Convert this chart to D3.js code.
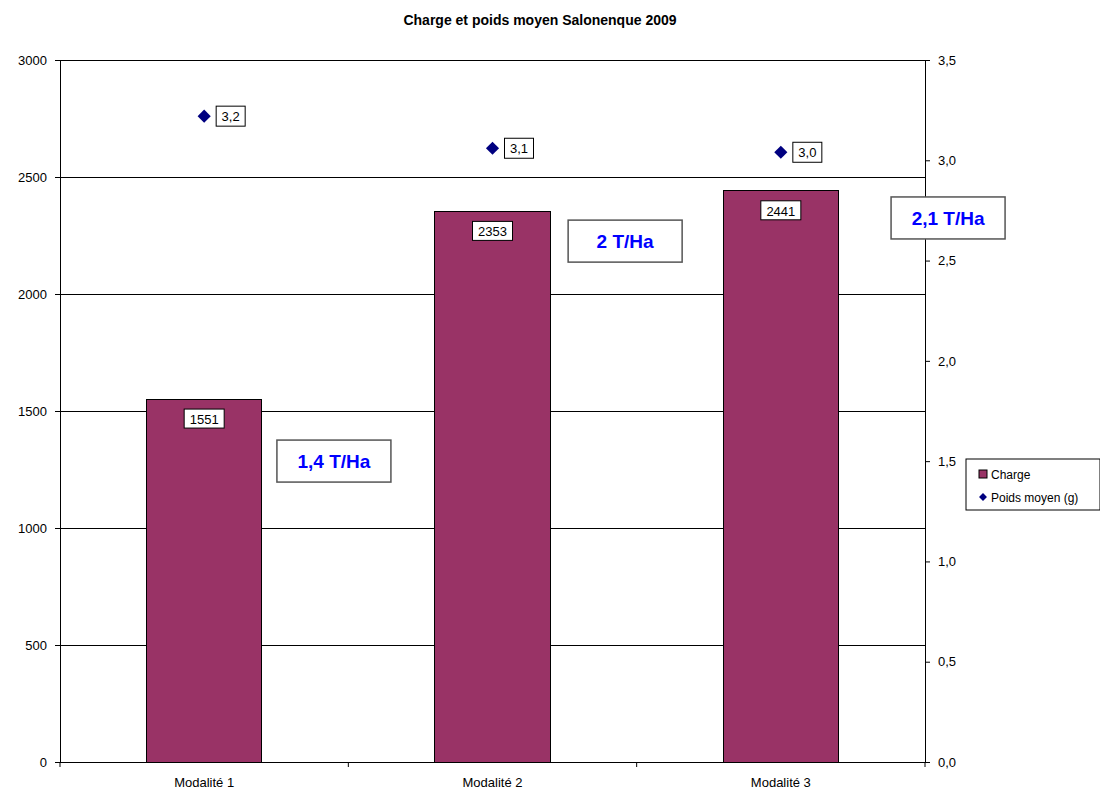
<!DOCTYPE html>
<html>
<head>
    <script src="https://cdn.jsdelivr.net/npm/d3@7"></script>
    <title>Charge et poids moyen</title>
    <style>
        body { margin: 0; background: #fff; }
        text { font-family: "Liberation Sans", Arial, sans-serif; }
    </style>
</head>
<body>
<script>
    // data
    var categories = ["Modalité 1", "Modalité 2", "Modalité 3"];
    var charge = [1551, 2353, 2441];
    var poids = [3.22, 3.06, 3.04];
    var leftTicks = [0, 500, 1000, 1500, 2000, 2500, 3000];
    var rightTicks = [0, 0.5, 1, 1.5, 2, 2.5, 3, 3.5];
    // annotation boxes: category, position inside band, value on left scale
    var noteText = ["1,4 T/Ha", "2 T/Ha", "2,1 T/Ha"];
    var noteBand = [0.95, 0.96, 1.08];
    var noteValue = [1286, 2226, 2325];

    var width = 1100, height = 793;
    var plotLeft = 60, plotRight = 925, plotTop = 60, plotBottom = 762;

    var svg = d3.select("body").append("svg")
        .attr("width", width).attr("height", height);

    var x = d3.scaleBand().domain(categories).range([plotLeft, plotRight]).padding(0);
    var yL = d3.scaleLinear().domain([0, 3000]).range([plotBottom, plotTop]);
    var yR = d3.scaleLinear().domain([0, 3.5]).range([plotBottom, plotTop]);

    // title
    svg.append("text")
        .attr("x", 540).attr("y", 25)
        .attr("text-anchor", "middle")
        .attr("font-size", 14).attr("font-weight", "bold")
        .text("Charge et poids moyen Salonenque 2009");

    // gridlines
    svg.append("g").selectAll("line")
        .data(leftTicks.filter(function(d){ return d > 0; }))
        .enter().append("line")
        .attr("x1", plotLeft).attr("x2", plotRight)
        .attr("y1", function(d){ return yL(d); })
        .attr("y2", function(d){ return yL(d); })
        .attr("stroke", "#000").attr("stroke-width", 1)
        .attr("shape-rendering", "crispEdges");

    // bars
    var bw = x.bandwidth() * 0.4;
    svg.append("g").selectAll("rect")
        .data(charge).enter().append("rect")
        .attr("x", function(d, i){ return x(categories[i]) + (x.bandwidth() - bw) / 2; })
        .attr("y", function(d){ return yL(d); })
        .attr("width", bw)
        .attr("height", function(d){ return yL(0) - yL(d); })
        .attr("fill", "#993366")
        .attr("stroke", "#000").attr("stroke-width", 1)
        .attr("shape-rendering", "crispEdges");

    // axes
    var axisStyle = function(g){
        g.selectAll("path").attr("stroke", "#000");
        g.selectAll("line").attr("stroke", "#000");
        g.selectAll("text").attr("font-size", 13).attr("fill", "#000")
            .attr("font-family", "Liberation Sans, Arial, sans-serif");
    };

    svg.append("g")
        .attr("transform", "translate(" + plotLeft + ",0)")
        .call(d3.axisLeft(yL).tickValues(leftTicks).tickSize(5).tickSizeOuter(0).tickPadding(8)
            .tickFormat(d3.format("d")))
        .call(axisStyle);

    svg.append("g")
        .attr("transform", "translate(" + plotRight + ",0)")
        .call(d3.axisRight(yR).tickValues(rightTicks).tickSize(5).tickSizeOuter(0).tickPadding(8)
            .tickFormat(function(d){ return d3.format(".1f")(d).replace(".", ","); }))
        .call(axisStyle);

    var xAxis = svg.append("g")
        .attr("transform", "translate(0," + plotBottom + ")")
        .call(d3.axisBottom(x).tickSize(0).tickPadding(16))
        .call(axisStyle);
    xAxis.select(".domain").remove();
    svg.append("line")
        .attr("x1", plotLeft).attr("x2", plotRight).attr("y1", plotBottom).attr("y2", plotBottom)
        .attr("stroke", "#000").attr("shape-rendering", "crispEdges");
    // category separator ticks
    svg.append("g").selectAll("line")
        .data(categories).enter().append("line")
        .attr("x1", function(d){ return x(d); })
        .attr("x2", function(d){ return x(d); })
        .attr("y1", plotBottom).attr("y2", plotBottom + 5)
        .attr("stroke", "#000");
    svg.append("line")
        .attr("x1", plotRight).attr("x2", plotRight).attr("y1", plotBottom).attr("y2", plotBottom + 5)
        .attr("stroke", "#000");

    // bar labels
    var barLab = svg.append("g").selectAll("g")
        .data(charge).enter().append("g")
        .attr("transform", function(d, i){
            return "translate(" + (x(categories[i]) + x.bandwidth() / 2) + "," + (yL(d) + 22) + ")";
        });
    barLab.append("rect")
        .attr("x", -20).attr("y", -12).attr("width", 40).attr("height", 19)
        .attr("fill", "#fff").attr("stroke", "#000");
    barLab.append("text")
        .attr("text-anchor", "middle").attr("y", 3)
        .attr("font-size", 13).text(function(d){ return d; });

    // diamonds
    var sym = d3.symbol().type(d3.symbolDiamond2).size(110);
    svg.append("g").selectAll("path")
        .data(poids).enter().append("path")
        .attr("d", sym)
        .attr("transform", function(d, i){
            return "translate(" + (x(categories[i]) + x.bandwidth() / 2) + "," + yR(d) + ")";
        })
        .attr("fill", "#000080");

    var ptLab = svg.append("g").selectAll("g")
        .data(poids).enter().append("g")
        .attr("transform", function(d, i){
            return "translate(" + (x(categories[i]) + x.bandwidth() / 2 + 12) + "," + yR(d) + ")";
        });
    ptLab.append("rect")
        .attr("x", 0).attr("y", -10).attr("width", 29).attr("height", 20)
        .attr("fill", "#fff").attr("stroke", "#000");
    ptLab.append("text")
        .attr("x", 14.5).attr("y", 5).attr("text-anchor", "middle")
        .attr("font-size", 13)
        .text(function(d){ return d3.format(".1f")(d).replace(".", ","); });

    // annotation boxes
    var notes = svg.append("g").selectAll("g")
        .data(noteText).enter().append("g")
        .attr("transform", function(d, i){
            return "translate(" + (x(categories[i]) + x.bandwidth() * noteBand[i]) + "," + yL(noteValue[i]) + ")";
        });
    notes.append("rect")
        .attr("x", -57).attr("y", -21).attr("width", 114).attr("height", 42)
        .attr("fill", "#fff").attr("stroke", "#555").attr("stroke-width", 1.5);
    notes.append("text")
        .attr("text-anchor", "middle").attr("y", 7)
        .attr("font-size", 19).attr("font-weight", "bold").attr("fill", "#0000ff")
        .text(function(d){ return d; });

    // legend
    var lg = svg.append("g").attr("transform", "translate(966,459)");
    lg.append("rect").attr("width", 134).attr("height", 51)
        .attr("fill", "#fff").attr("stroke", "#000");
    lg.append("rect").attr("x", 13).attr("y", 11).attr("width", 8).attr("height", 8)
        .attr("fill", "#993366").attr("stroke", "#000");
    lg.append("text").attr("x", 25).attr("y", 20).attr("font-size", 12).text("Charge");
    lg.append("path").attr("d", d3.symbol().type(d3.symbolDiamond2).size(40))
        .attr("transform", "translate(17,38)").attr("fill", "#000080");
    lg.append("text").attr("x", 25).attr("y", 43).attr("font-size", 12).text("Poids moyen (g)");
</script>
</body>
</html>
